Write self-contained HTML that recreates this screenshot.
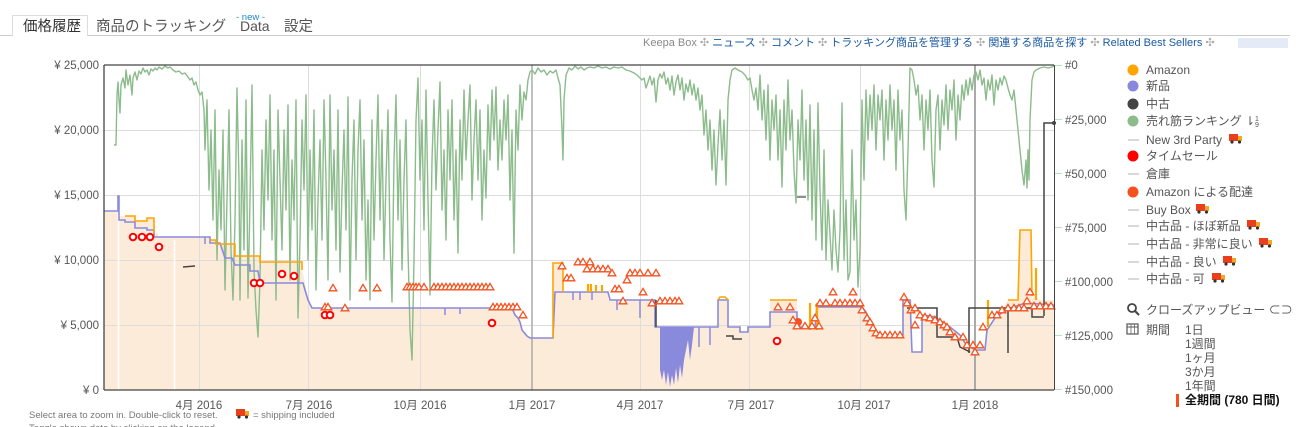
<!DOCTYPE html>
<html><head><meta charset="utf-8"><style>
html,body{margin:0;padding:0;background:#fff;width:1313px;height:427px;overflow:hidden}
svg{display:block;font-family:"Liberation Sans","Noto Sans CJK JP",sans-serif}
</style></head><body>
<svg width="1313" height="427" viewBox="0 0 1313 427" xmlns="http://www.w3.org/2000/svg">
<defs>
<path id="t" d="M0,-3.6 L3.8,2.8 L-3.8,2.8Z" fill="#fff" stroke="#f4511e" stroke-width="1.3"/>
<circle id="c" r="3.3" fill="#fff" stroke="#f00" stroke-width="2"/>
<g id="truck"><rect x="0" y="0" width="9" height="7" fill="#e8401c"/><rect x="9" y="2" width="4" height="5" fill="#f5a623"/><circle cx="3" cy="8" r="1.6" fill="#333"/><circle cx="10.5" cy="8" r="1.6" fill="#333"/></g>
</defs>
<!-- tabs -->
<line x1="0" y1="35.5" x2="1290" y2="35.5" stroke="#ccc"/>
<path d="M12.5,35.5 V15.5 H87.5 V35.5" fill="#fff" stroke="#ddd"/>
<rect x="13" y="16" width="74" height="21" fill="#fff"/>
<text x="23" y="31" font-size="14.5" fill="#333">価格履歴</text>
<text x="96" y="31" font-size="14.5" fill="#555">商品のトラッキング</text>
<text x="236" y="20" font-size="9.5" fill="#1e88c8">- new -</text>
<text x="240" y="31" font-size="14" fill="#555">Data</text>
<text x="284" y="31" font-size="14.5" fill="#555">設定</text>
<!-- links -->
<text x="643" y="46" font-size="11" fill="#888">Keepa Box <tspan fill="#aaa">✣</tspan> <tspan fill="#1a5aa0">ニュース</tspan> <tspan fill="#aaa">✣</tspan> <tspan fill="#1a5aa0">コメント</tspan> <tspan fill="#aaa">✣</tspan> <tspan fill="#1a5aa0">トラッキング商品を管理する</tspan> <tspan fill="#aaa">✣</tspan> <tspan fill="#1a5aa0">関連する商品を探す</tspan> <tspan fill="#aaa">✣</tspan> <tspan fill="#1a5aa0">Related Best Sellers</tspan> <tspan fill="#aaa">✣</tspan></text>
<rect x="1238" y="38" width="50" height="10" fill="#dde6f4" opacity="0.8"/>

<!-- plot background -->
<rect x="104" y="65" width="950" height="325" fill="#fff"/>
<polygon fill="#fdebda" points="104,211 118,211 118,196 119,196 119,216 135,216 135,221 147,221 147,218 154,218 154,233 158,233 158,237 210,237 210,240 216,240 216,244 235,244 235,256 260,256 260,262 302,262 302,270 305,282 308,300 312,308 512,308 515,315 518,318 520,322 522,330 527,336 530,338 553,338 553,263 563,263 563,292 608,292 608,300 655,300 655,327 718,327 718,300 728,300 728,327 740,327 740,332 748,332 748,327 770,327 770,300 797,300 797,330 815,330 815,305 862,305 866,312 870,320 874,330 880,335 903,335 903,300 912,300 912,352 922,352 922,315 935,315 935,320 950,327 960,335 965,343 975,350 985,350 987,330 995,316 1003,310 1008,300 1018,300 1020,230 1031,230 1032,296 1040,300 1054,300 1054,390 104,390"/>
<!-- grid -->
<g stroke="#ddd" stroke-width="1">
<line x1="104" y1="130.5" x2="1054" y2="130.5"/><line x1="104" y1="195.5" x2="1054" y2="195.5"/><line x1="104" y1="260.5" x2="1054" y2="260.5"/><line x1="104" y1="325.5" x2="1054" y2="325.5"/>
<line x1="199.5" y1="65" x2="199.5" y2="390"/><line x1="308.5" y1="65" x2="308.5" y2="390"/><line x1="420.5" y1="65" x2="420.5" y2="390"/><line x1="640.5" y1="65" x2="640.5" y2="390"/><line x1="749.5" y1="65" x2="749.5" y2="390"/><line x1="860.5" y1="65" x2="860.5" y2="390"/>
</g>
<line x1="532" y1="65" x2="532" y2="390" stroke="#aaa" stroke-width="1.5"/>
<line x1="975" y1="65" x2="975" y2="390" stroke="#aaa" stroke-width="2"/>
<line x1="118.5" y1="200" x2="118.5" y2="390" stroke="#fff" stroke-width="1.5"/>
<line x1="174.5" y1="240" x2="174.5" y2="390" stroke="#fff" stroke-width="1.5"/>

<!-- rank green -->
<polyline fill="none" stroke="#8cbb8c" stroke-width="1.4" stroke-linejoin="round" points="114,145 116,145 117,95 118,82 119,100 120,113 121,85 123,78 125,88 126,70 128,85 130,75 132,95 133,78 135,72 137,80 139,71 141,74 143,68 145,72 147,70 149,75 151,69 153,71 155,68 157,70 159,67 162,69 165,66 168,68 170,67 173,70 176,72 179,71 182,74 185,73 188,77 190,80 192,78 194,85 196,82 198,90 200,95 202,92 204,110 205,150 207,100 209,190 211,130 213,220 215,110 217,260 219,170 221,230 223,130 225,290 227,200 229,110 231,250 233,300 235,220 237,88 239,180 240,300 242,140 244,250 246,100 248,298 250,200 252,85 254,270 256,310 258,337 260,280 262,150 264,230 266,120 268,200 270,95 272,240 274,150 276,300 278,110 280,180 282,250 284,130 286,210 288,105 290,280 292,160 294,220 296,100 298,318 300,240 302,120 304,190 306,95 308,260 310,150 312,230 314,110 316,290 318,200 320,140 322,240 324,100 326,180 328,280 330,95 332,210 334,150 336,250 338,110 340,272 342,190 344,130 346,230 348,97 350,300 352,180 354,120 356,260 358,150 360,100 362,220 364,140 366,280 368,200 370,300 372,120 374,240 376,160 378,95 380,220 382,130 384,260 386,180 388,110 390,240 392,302 394,160 396,95 398,220 400,140 402,270 404,180 406,120 408,250 410,330 412,360 414,260 416,120 418,78 420,180 422,120 424,230 426,90 428,200 430,295 432,160 434,100 436,190 438,130 440,82 442,210 444,150 446,240 448,110 450,180 452,100 454,220 456,150 458,253 460,120 462,180 464,90 466,160 468,120 470,85 472,200 474,140 476,100 478,180 480,110 482,220 484,150 486,198 488,105 490,160 492,90 494,140 496,87 498,170 500,120 502,160 504,100 506,140 508,95 510,200 512,130 514,253 516,110 518,150 520,85 522,120 524,92 526,100 528,80 530,72 532,70 535,74 538,68 541,72 544,70 547,75 550,71 553,73 556,70 558,78 560,85 562,130 563,160 564,100 566,75 569,68 572,70 575,66 578,69 581,67 584,70 587,68 590,67 594,68 598,66 602,68 606,67 610,69 614,67 618,68 622,67 626,70 630,71 634,73 637,75 640,78 642,80 644,78 646,88 648,82 650,76 652,85 654,78 656,102 658,80 660,74 662,78 664,72 666,84 668,78 670,90 672,76 674,95 676,82 678,75 680,90 682,78 684,100 686,84 688,92 690,80 692,95 694,84 696,100 698,88 700,110 702,95 704,135 706,110 708,150 710,120 712,170 714,130 716,185 718,145 720,110 722,160 724,120 726,185 728,100 730,80 732,70 735,68 738,70 742,72 745,75 748,80 750,78 752,90 754,100 756,88 758,110 760,75 762,120 764,90 766,140 768,85 770,160 772,100 774,130 776,95 778,160 780,110 782,187 784,100 786,150 788,80 790,140 792,110 794,170 796,203 798,120 800,160 802,90 804,180 806,120 808,200 810,105 812,220 814,130 816,240 818,103 820,190 822,250 824,150 826,260 828,200 830,235 832,270 834,210 836,250 838,272 840,230 842,103 844,260 846,200 848,280 850,272 852,150 854,240 856,200 858,287 860,250 862,100 864,180 866,90 868,140 870,95 872,130 874,85 876,150 878,95 880,120 882,90 884,160 886,100 888,140 890,85 892,130 894,100 896,170 898,90 900,140 902,110 904,190 906,220 908,150 910,68 912,70 914,80 916,95 918,85 920,120 922,95 924,150 926,100 928,130 930,90 932,160 934,187 936,110 938,95 940,150 942,100 944,125 946,85 948,130 950,90 952,110 954,80 956,140 958,95 960,120 962,85 964,100 966,80 968,95 970,78 972,90 974,75 976,72 978,80 980,70 982,85 984,78 986,100 988,80 990,90 992,75 994,105 996,80 998,90 1000,78 1002,85 1004,76 1006,80 1008,88 1010,95 1012,100 1014,90 1016,110 1018,130 1020,150 1022,170 1024,185 1026,160 1027,188 1028,150 1029,180 1030,120 1032,80 1034,72 1036,70 1040,68 1044,67 1048,68 1052,67 1054,66"/>
<line x1="797" y1="197" x2="806" y2="197" stroke="#555" stroke-width="1.3"/>

<!-- blue dense -->
<polygon fill="#8a8add" points="660,327 660,370 662,380 664,370 666,385 668,372 670,387 672,375 674,385 676,368 678,383 680,365 682,378 684,360 686,350 688,340 690,360 692,345 694,327"/>
<g stroke="#8a8add" stroke-width="1.5"><line x1="699" y1="327" x2="699" y2="347"/><line x1="710" y1="327" x2="710" y2="345"/><line x1="640" y1="300" x2="640" y2="318"/><line x1="573" y1="292" x2="573" y2="300"/><line x1="580" y1="292" x2="580" y2="300"/><line x1="592" y1="292" x2="592" y2="300"/><line x1="617" y1="300" x2="617" y2="310"/><line x1="205" y1="237" x2="205" y2="244"/><line x1="445" y1="308" x2="445" y2="315"/><line x1="460" y1="308" x2="460" y2="314"/></g>
<!-- blue line -->
<polyline fill="none" stroke="#8a8add" stroke-width="1.6" points="104,211 118,211 118,196 119,196 119,220 125,220 125,222 135,222 135,228 147,228 147,230 154,230 154,237 210,237 210,243 220,243 225,258 232,258 235,265 250,265 250,271 258,271 260,283 303,283 305,290 308,300 312,308 512,308 515,315 518,318 520,322 522,330 527,336 530,338 553,338 555,292 608,292 610,300 655,300 655,327 718,327 718,300 728,300 728,327 740,327 740,332 748,332 748,327 770,327 770,312 797,312 797,327 815,327 817,307 862,307 866,312 870,320 874,330 880,335 903,335 903,300 910,300 912,352 922,352 922,315 935,317 950,327 960,335 965,343 975,350 985,350 987,330 995,318 1003,312 1010,308 1020,305 1025,303 1054,305"/>
<!-- orange -->
<g fill="none" stroke="#ffa500" stroke-width="1.6">
<polyline points="125,216 135,216 135,221 147,221 147,218 154,218 154,233"/>
<polyline points="210,240 216,240 216,244 235,244 235,256 260,256 260,262 302,262 302,270"/>
<polyline points="553,338 553,263 563,263 563,292"/>
<polyline points="718,300 720,297 725,297 728,300"/>
<polyline points="770,300 797,300"/>
<polyline points="815,305 862,305"/>
<polyline points="1008,300 1018,300 1020,230 1031,230 1032,296"/>
</g>
<g stroke="#ffa500" stroke-width="2.2">
<line x1="588" y1="292" x2="588" y2="284"/><line x1="591" y1="292" x2="591" y2="284"/><line x1="596" y1="292" x2="596" y2="285"/><line x1="602" y1="292" x2="602" y2="285"/>
<line x1="810" y1="303" x2="810" y2="330"/><line x1="817" y1="303" x2="817" y2="330"/><line x1="1036" y1="268" x2="1036" y2="300"/><line x1="988" y1="300" x2="988" y2="327"/>
</g>
<!-- used dark -->
<g fill="none" stroke="#444" stroke-width="1.5">
<polyline points="1044,316 1044,123 1054,123"/>
<polyline points="969,353 969,308 1015,308"/>
<line x1="1008" y1="308" x2="1008" y2="353"/>
<polyline points="907,308 937,308 937,337 957,337 960,347 970,352"/>
<polyline points="1020,308 1032,308 1032,317 1044,317"/>
<polyline points="183,267 195,266"/>
<polyline points="656,300 656,327"/>
<polyline points="726,336 733,336 733,339 742,339"/>
</g>
<circle cx="1054" cy="123" r="2" fill="#444"/>

<!-- red circles -->
<g><use href="#c" x="133" y="237"/><use href="#c" x="142" y="237"/><use href="#c" x="150" y="237"/><use href="#c" x="159" y="247"/><use href="#c" x="254" y="283"/><use href="#c" x="260" y="283"/><use href="#c" x="282" y="274"/><use href="#c" x="294" y="276"/><use href="#c" x="325" y="315"/><use href="#c" x="330" y="315"/><use href="#c" x="492" y="323"/><use href="#c" x="777" y="341"/></g>
<circle cx="798" cy="322" r="4" fill="#f4511e"/>
<!-- triangles -->
<g>
<use href="#t" x="333" y="288"/><use href="#t" x="363" y="288"/><use href="#t" x="377" y="288"/>
<use href="#t" x="407" y="287"/><use href="#t" x="410" y="287"/><use href="#t" x="413" y="287"/><use href="#t" x="416" y="287"/><use href="#t" x="419" y="287"/><use href="#t" x="424" y="287"/>
<use href="#t" x="434" y="287"/><use href="#t" x="438" y="287"/><use href="#t" x="442" y="287"/><use href="#t" x="446" y="287"/><use href="#t" x="450" y="287"/><use href="#t" x="454" y="287"/><use href="#t" x="458" y="287"/><use href="#t" x="462" y="287"/><use href="#t" x="466" y="287"/><use href="#t" x="470" y="287"/><use href="#t" x="474" y="287"/><use href="#t" x="478" y="287"/><use href="#t" x="482" y="287"/><use href="#t" x="486" y="287"/><use href="#t" x="490" y="287"/>
<use href="#t" x="325" y="307"/><use href="#t" x="328" y="307"/><use href="#t" x="345" y="308"/>
<use href="#t" x="493" y="307"/><use href="#t" x="497" y="307"/><use href="#t" x="501" y="307"/><use href="#t" x="505" y="307"/><use href="#t" x="509" y="307"/><use href="#t" x="513" y="307"/><use href="#t" x="517" y="307"/><use href="#t" x="523" y="315"/>
<use href="#t" x="562" y="266"/><use href="#t" x="567" y="278"/><use href="#t" x="571" y="278"/><use href="#t" x="578" y="262"/><use href="#t" x="583" y="262"/><use href="#t" x="590" y="262"/>
<use href="#t" x="587" y="269"/><use href="#t" x="593" y="269"/><use href="#t" x="598" y="269"/><use href="#t" x="603" y="269"/><use href="#t" x="608" y="269"/><use href="#t" x="612" y="273"/>
<use href="#t" x="627" y="280"/><use href="#t" x="630" y="273"/><use href="#t" x="635" y="273"/><use href="#t" x="640" y="273"/><use href="#t" x="648" y="273"/><use href="#t" x="656" y="273"/>
<use href="#t" x="615" y="289"/><use href="#t" x="619" y="289"/><use href="#t" x="643" y="292"/><use href="#t" x="623" y="301"/><use href="#t" x="652" y="303"/>
<use href="#t" x="660" y="301"/><use href="#t" x="665" y="301"/><use href="#t" x="670" y="301"/><use href="#t" x="675" y="301"/><use href="#t" x="679" y="301"/>
<use href="#t" x="778" y="307"/><use href="#t" x="790" y="307"/><use href="#t" x="793" y="320"/><use href="#t" x="797" y="326"/><use href="#t" x="805" y="326"/><use href="#t" x="812" y="326"/><use href="#t" x="819" y="326"/><use href="#t" x="815" y="318"/>
<use href="#t" x="820" y="303"/><use href="#t" x="826" y="303"/><use href="#t" x="835" y="303"/><use href="#t" x="840" y="303"/><use href="#t" x="845" y="303"/><use href="#t" x="850" y="303"/><use href="#t" x="855" y="303"/><use href="#t" x="860" y="303"/><use href="#t" x="833" y="292"/><use href="#t" x="853" y="292"/>
<use href="#t" x="862" y="310"/><use href="#t" x="867" y="318"/><use href="#t" x="870" y="322"/><use href="#t" x="873" y="328"/><use href="#t" x="876" y="333"/>
<use href="#t" x="880" y="335"/><use href="#t" x="885" y="335"/><use href="#t" x="890" y="335"/><use href="#t" x="895" y="335"/><use href="#t" x="900" y="335"/>
<use href="#t" x="904" y="297"/><use href="#t" x="907" y="303"/><use href="#t" x="911" y="310"/><use href="#t" x="915" y="308"/><use href="#t" x="915" y="325"/>
<use href="#t" x="920" y="315"/><use href="#t" x="925" y="317"/><use href="#t" x="930" y="318"/><use href="#t" x="935" y="320"/><use href="#t" x="940" y="322"/><use href="#t" x="944" y="325"/>
<use href="#t" x="947" y="327"/><use href="#t" x="950" y="332"/><use href="#t" x="955" y="337"/><use href="#t" x="963" y="337"/>
<use href="#t" x="967" y="345"/><use href="#t" x="973" y="345"/><use href="#t" x="980" y="345"/><use href="#t" x="975" y="352"/><use href="#t" x="983" y="327"/>
<use href="#t" x="992" y="315"/><use href="#t" x="997" y="315"/><use href="#t" x="1002" y="310"/><use href="#t" x="1008" y="308"/><use href="#t" x="1014" y="308"/><use href="#t" x="1019" y="308"/><use href="#t" x="1024" y="308"/>
<use href="#t" x="1030" y="292"/><use href="#t" x="1027" y="301"/><use href="#t" x="1034" y="306"/><use href="#t" x="1040" y="306"/><use href="#t" x="1046" y="306"/><use href="#t" x="1051" y="306"/>
</g>

<!-- frame -->
<line x1="104" y1="65" x2="1054" y2="65" stroke="#444" stroke-width="1.3"/>
<line x1="104" y1="65" x2="104" y2="390" stroke="#444" stroke-width="1.3"/>
<line x1="104" y1="390" x2="1054" y2="390" stroke="#444" stroke-width="1.3"/>
<line x1="1054.5" y1="65" x2="1054.5" y2="390" stroke="#444" stroke-width="1"/>
<g stroke="#b5e6b5"><line x1="1055" y1="65.5" x2="1062" y2="65.5"/><line x1="1055" y1="119.5" x2="1062" y2="119.5"/><line x1="1055" y1="173.5" x2="1062" y2="173.5"/><line x1="1055" y1="227.5" x2="1062" y2="227.5"/><line x1="1055" y1="281.5" x2="1062" y2="281.5"/><line x1="1055" y1="335.5" x2="1062" y2="335.5"/><line x1="1055" y1="389.5" x2="1062" y2="389.5"/></g>

<!-- axis labels -->
<g font-size="11.5" fill="#555" text-anchor="end">
<text x="99" y="69">¥ 25,000</text><text x="99" y="134">¥ 20,000</text><text x="99" y="199">¥ 15,000</text><text x="99" y="264">¥ 10,000</text><text x="99" y="329">¥ 5,000</text><text x="99" y="394">¥ 0</text>
</g>
<g font-size="11.5" fill="#555">
<text x="1065" y="69">#0</text><text x="1065" y="124">#25,000</text><text x="1065" y="178">#50,000</text><text x="1065" y="232">#75,000</text><text x="1065" y="286">#100,000</text><text x="1065" y="340">#125,000</text><text x="1065" y="394">#150,000</text>
</g>
<g font-size="11.5" fill="#555" text-anchor="middle">
<text x="199" y="409">4月 2016</text><text x="309" y="409">7月 2016</text><text x="420" y="409">10月 2016</text><text x="532" y="409">1月 2017</text><text x="640" y="409">4月 2017</text><text x="751" y="409">7月 2017</text><text x="864" y="409">10月 2017</text><text x="975" y="409">1月 2018</text>
</g>
<text x="29" y="418" font-size="9.5" fill="#777">Select area to zoom in. Double-click to reset.</text>
<use href="#truck" x="236" y="409"/>
<text x="253" y="418" font-size="9.5" fill="#777">= shipping included</text>
<text x="29" y="431" font-size="9.5" fill="#777">Toggle shown data by clicking on the legend.</text>

<!-- legend -->
<g font-size="12" fill="#555">
<circle cx="1133" cy="70" r="5.5" fill="#ffa500"/><text x="1146" y="74">Amazon</text>
<circle cx="1133" cy="86" r="5.5" fill="#8888dd"/><text x="1146" y="90">新品</text>
<circle cx="1133" cy="104" r="5.5" fill="#444"/><text x="1146" y="108">中古</text>
<circle cx="1133" cy="121" r="5.5" fill="#8cbb8c"/><text x="1146" y="125">売れ筋ランキング ⇂<tspan font-size="7" dy="-4">1</tspan><tspan font-size="7" dx="-4" dy="6">9</tspan></text>
<line x1="1128" y1="140" x2="1139" y2="140" stroke="#ccc" stroke-width="1.5"/><text x="1146" y="144">New 3rd Party</text><use href="#truck" x="1229" y="134"/>
<circle cx="1133" cy="156" r="5.5" fill="#f00"/><text x="1146" y="160">タイムセール</text>
<line x1="1128" y1="174" x2="1139" y2="174" stroke="#ccc" stroke-width="1.5"/><text x="1146" y="178">倉庫</text>
<circle cx="1133" cy="192" r="5.5" fill="#f4511e"/><text x="1146" y="196">Amazon による配達</text>
<line x1="1128" y1="210" x2="1139" y2="210" stroke="#ccc" stroke-width="1.5"/><text x="1146" y="214">Buy Box</text><use href="#truck" x="1196" y="204"/>
<line x1="1128" y1="226" x2="1139" y2="226" stroke="#ccc" stroke-width="1.5"/><text x="1146" y="230">中古品 - ほぼ新品</text><use href="#truck" x="1247" y="220"/>
<line x1="1128" y1="244" x2="1139" y2="244" stroke="#ccc" stroke-width="1.5"/><text x="1146" y="248">中古品 - 非常に良い</text><use href="#truck" x="1259" y="238"/>
<line x1="1128" y1="262" x2="1139" y2="262" stroke="#ccc" stroke-width="1.5"/><text x="1146" y="266">中古品 - 良い</text><use href="#truck" x="1223" y="256"/>
<line x1="1128" y1="279" x2="1139" y2="279" stroke="#ccc" stroke-width="1.5"/><text x="1146" y="283">中古品 - 可</text><use href="#truck" x="1212" y="273"/>
<circle cx="1132" cy="308" r="4" fill="none" stroke="#444" stroke-width="1.8"/><line x1="1135" y1="311" x2="1139" y2="315" stroke="#444" stroke-width="2"/>
<text x="1146" y="314">クローズアップビュー ⊂⊃</text>
<rect x="1127" y="324" width="11" height="10" fill="none" stroke="#555" stroke-width="1.2"/><line x1="1127" y1="327" x2="1138" y2="327" stroke="#555"/><line x1="1131" y1="324" x2="1131" y2="334" stroke="#555" stroke-width="0.7"/><line x1="1134.5" y1="324" x2="1134.5" y2="334" stroke="#555" stroke-width="0.7"/>
<text x="1146" y="334">期間</text>
<text x="1185" y="334">1日</text><text x="1185" y="348">1週間</text><text x="1185" y="362">1ヶ月</text><text x="1185" y="376">3か月</text><text x="1185" y="390">1年間</text>
<rect x="1176" y="394" width="3" height="13" fill="#f4511e"/>
<text x="1185" y="404" fill="#111" font-weight="bold">全期間 (780 日間)</text>
</g>
</svg>
</body></html>
